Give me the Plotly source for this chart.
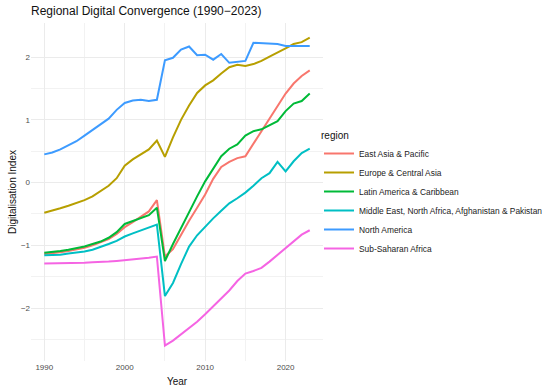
import plotly.graph_objects as go

years = [1990, 1991, 1992, 1993, 1994, 1995, 1996, 1997, 1998, 1999,
         2000, 2001, 2002, 2003, 2004, 2005, 2006, 2007, 2008, 2009,
         2010, 2011, 2012, 2013, 2014, 2015, 2016, 2017, 2018, 2019,
         2020, 2021, 2022, 2023]

east_asia_pacific = [-1.14, -1.13, -1.11, -1.09, -1.07, -1.04, -1.00, -0.95, -0.90, -0.82,
                     -0.71, -0.63, -0.55, -0.46, -0.28, -1.18, -1.06, -0.83, -0.61, -0.40,
                     -0.19, 0.06, 0.25, 0.33, 0.39, 0.42, 0.62, 0.84, 1.03, 1.23,
                     1.42, 1.58, 1.70, 1.79]
europe_central_asia = [-0.48, -0.45, -0.41, -0.37, -0.33, -0.28, -0.22, -0.14, -0.05, 0.07,
                       0.27, 0.37, 0.45, 0.53, 0.67, 0.41, 0.72, 1.00, 1.23, 1.43,
                       1.55, 1.63, 1.74, 1.84, 1.88, 1.86, 1.89, 1.94, 2.01, 2.07,
                       2.14, 2.21, 2.24, 2.31]
latin_america_caribbean = [-1.12, -1.11, -1.09, -1.07, -1.05, -1.02, -0.98, -0.94, -0.88, -0.79,
                           -0.66, -0.61, -0.57, -0.52, -0.40, -1.25, -0.98, -0.72, -0.47, -0.22,
                           0.02, 0.23, 0.42, 0.54, 0.61, 0.75, 0.82, 0.85, 0.91, 0.98,
                           1.14, 1.26, 1.30, 1.42]
mena_afg_pak = [-1.16, -1.16, -1.15, -1.13, -1.12, -1.10, -1.07, -1.03, -0.98, -0.93,
                -0.86, -0.81, -0.76, -0.71, -0.67, -1.81, -1.60, -1.30, -1.02, -0.84,
                -0.70, -0.57, -0.45, -0.33, -0.25, -0.16, -0.05, 0.07, 0.15, 0.33,
                0.18, 0.34, 0.47, 0.54]
north_america = [0.45, 0.48, 0.53, 0.59, 0.66, 0.75, 0.84, 0.93, 1.02, 1.16,
                 1.27, 1.31, 1.32, 1.30, 1.32, 1.95, 1.99, 2.12, 2.17, 2.03,
                 2.04, 1.96, 2.05, 1.91, 1.93, 1.94, 2.23, 2.22, 2.21, 2.21,
                 2.18, 2.18, 2.18, 2.18]
sub_saharan_africa = [-1.29, -1.29, -1.28, -1.28, -1.28, -1.28, -1.27, -1.27, -1.26, -1.25,
                      -1.24, -1.23, -1.21, -1.20, -1.18, -2.60, -2.52, -2.42, -2.32, -2.22,
                      -2.10, -1.97, -1.84, -1.72, -1.57, -1.45, -1.41, -1.36, -1.26, -1.15,
                      -1.04, -0.94, -0.83, -0.76]

region_names = ["East Asia & Pacific", "Europe & Central Asia", "Latin America & Caribbean",
                "Middle East, North Africa, Afghanistan & Pakistan", "North America",
                "Sub-Saharan Africa"]
region_values = [east_asia_pacific, europe_central_asia, latin_america_caribbean,
                 mena_afg_pak, north_america, sub_saharan_africa]
region_colors = ["#F8766D", "#B79F00", "#00BA38", "#00BFC4", "#3D9BFF", "#F564E3"]

x_ticks = [1990, 2000, 2010, 2020]
y_ticks = [-2, -1, 0, 1, 2]

fig = go.Figure()
for name, vals, col in zip(region_names, region_values, region_colors):
    fig.add_trace(go.Scatter(x=years, y=vals, mode="lines", name=name,
                             line=dict(color=col, width=2)))

font_family = "Liberation Sans, Arial, sans-serif"
fig.update_layout(
    width=550, height=391,
    margin=dict(l=31, r=227, t=23, b=30, autoexpand=False),
    paper_bgcolor="white", plot_bgcolor="white",
    font=dict(family=font_family, color="#222222"),
    title=dict(text="Regional Digital Convergence (1990\u22122023)",
               x=31/550, xanchor="left", xref="container",
               y=1 - 11/391, yanchor="middle", yref="container",
               font=dict(size=12, color="#111111")),
    showlegend=True,
    legend=dict(x=319/550, xanchor="left", xref="container",
                y=1 - 126/391, yanchor="top", yref="container",
                title=dict(text="region", font=dict(size=10, color="#111111")),
                font=dict(size=8.4, color="#222222"),
                bgcolor="rgba(0,0,0,0)", itemwidth=30),
    xaxis=dict(range=[1988.35, 2024.65], tickvals=x_ticks, ticktext=[str(v) for v in x_ticks],
               automargin=False,
               showgrid=True, gridcolor="#EBEBEB", gridwidth=1, zeroline=False,
               showline=False, ticks="", tickfont=dict(size=8, color="#4D4D4D"),
               title=dict(text="Year", font=dict(size=10, color="#111111"), standoff=6),
               minor=dict(tickvals=[1995, 2005, 2015], showgrid=True,
                          gridcolor="#F2F2F2", gridwidth=1)),
    yaxis=dict(range=[-2.845, 2.545], tickvals=y_ticks,
               automargin=False,
               showgrid=True, gridcolor="#EBEBEB", gridwidth=1, zeroline=False,
               showline=False, ticks="", tickfont=dict(size=8, color="#4D4D4D"),
               title=dict(text="Digitalisation Index", font=dict(size=10, color="#111111"),
                          standoff=2),
               minor=dict(tickvals=[-2.5, -1.5, -0.5, 0.5, 1.5], showgrid=True,
                          gridcolor="#F2F2F2", gridwidth=1)),
)

fig.write_html("out.html",
               config={"displayModeBar": False},
               post_script="document.body.style.margin='0';document.body.style.padding='0';"
                           "document.body.style.overflow='hidden';")
